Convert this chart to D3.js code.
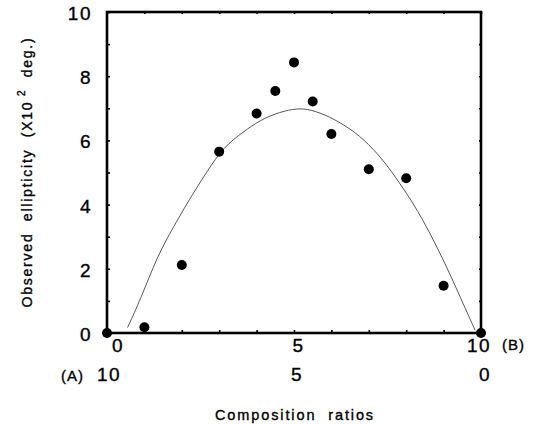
<!DOCTYPE html>
<html>
<head>
<meta charset="utf-8">
<script src="https://cdn.jsdelivr.net/npm/d3@7.9.0/dist/d3.min.js"></script>
<style>
  body { margin: 0; background: #fff; }
  svg { display: block; font-family: "Liberation Sans", Arial, sans-serif; }
  svg text { white-space: pre; stroke: #000; stroke-width: 0.35; fill: #000; }
</style>
</head>
<body>
<svg id="chart" width="533" height="424"></svg>
<script>
// measured points
const ratioB = [0, 1, 2, 3, 4, 4.5, 5, 5.5, 6, 7, 8, 9, 10];
const ellipticity = [0, 0.18, 2.12, 5.65, 6.84, 7.54, 8.43, 7.21, 6.2, 5.1, 4.82, 1.47, 0];

// fitted curve
const fitX = [0.55, 0.89, 1.34, 1.78, 2.14, 2.67, 3.12, 3.65, 4.10, 4.63, 5.08, 5.43, 5.96, 6.41, 6.85, 7.39, 7.83, 8.19, 8.64, 9.08, 9.44, 9.84];
const fitY = [0.17, 1.03, 2.38, 3.31, 4.04, 5.03, 5.80, 6.27, 6.64, 6.89, 7.0, 6.97, 6.74, 6.43, 6.06, 5.39, 4.66, 4.04, 3.11, 2.07, 1.13, 0.09];

const yTickLabels = [0, 2, 4, 6, 8, 10];
const bLabels = [0, 5, 10];      // composition of B
const aLabels = ["10", "5", "0"]; // composition of A

const margin = { top: 12, right: 52, bottom: 91, left: 107 };
const width = 533, height = 424;

const svg = d3.select('#chart');

const x = d3.scaleLinear().domain([0, 10]).range([margin.left, width - margin.right]);
const y = d3.scaleLinear().domain([0, 10]).range([height - margin.bottom, margin.top]);
// tick labels in the figure sit a little off the tick marks
const xLab = d3.scaleLinear().domain([0, 10]).range([118, 479]);
const xLab2 = d3.scaleLinear().domain([0, 10]).range([109, 485]);

// small inward ticks on all four sides
svg.append('g')
    .attr('transform', `translate(${margin.left},0)`)
    .call(d3.axisLeft(y).ticks(10).tickSize(-3).tickFormat(''))
    .call(g => g.select('.domain').remove());
svg.append('g')
    .attr('transform', `translate(0,${y(0)})`)
    .call(d3.axisBottom(x).ticks(10).tickSize(-3).tickFormat(''))
    .call(g => g.select('.domain').remove());
svg.append('g')
    .attr('transform', `translate(${x(10)},0)`)
    .call(d3.axisRight(y).ticks(10).tickSize(-2).tickFormat(''))
    .call(g => g.select('.domain').remove());
svg.append('g')
    .attr('transform', `translate(0,${y(10)})`)
    .call(d3.axisTop(x).ticks(10).tickSize(-2).tickFormat(''))
    .call(g => g.select('.domain').remove());
svg.selectAll('.tick line').attr('stroke', '#000').attr('stroke-width', 1.6);

// frame
svg.append('rect')
    .attr('x', x(0)).attr('y', y(10))
    .attr('width', x(10) - x(0)).attr('height', y(0) - y(10))
    .attr('fill', 'none').attr('stroke', '#000').attr('stroke-width', 2.6);

// y tick labels
svg.append('g')
    .selectAll('text')
    .data(yTickLabels)
    .join('text')
    .attr('x', 92)
    .attr('y', d => y(d) + 3)
    .attr('text-anchor', 'end')
    .attr('dominant-baseline', 'middle')
    .attr('font-size', 19)
    .attr('letter-spacing', 1.5)
    .text(d => d);

// x labels, row B
svg.append('g')
    .selectAll('text')
    .data(bLabels)
    .join('text')
    .attr('x', d => xLab(d))
    .attr('y', 352)
    .attr('text-anchor', 'middle')
    .attr('font-size', 19)
    .attr('letter-spacing', 1.5)
    .text(d => d);
svg.append('text').attr('x', 502).attr('y', 350)
    .attr('font-size', 15).attr('letter-spacing', 1).text('(B)');

// x labels, row A
svg.append('g')
    .selectAll('text')
    .data(aLabels)
    .join('text')
    .attr('x', (d, i) => xLab2(bLabels[i]))
    .attr('y', 381)
    .attr('text-anchor', 'middle')
    .attr('font-size', 19)
    .attr('letter-spacing', 1.5)
    .text(d => d);
svg.append('text').attr('x', 84).attr('y', 381)
    .attr('text-anchor', 'end')
    .attr('font-size', 15).attr('letter-spacing', 1).text('(A)');

// axis titles
const xt = svg.append('text')
    .attr('x', 295).attr('y', 420)
    .attr('text-anchor', 'middle')
    .attr('font-size', 14.5)
    .text('Composition  ratios');
fitWidth(xt, 160);

const yt = svg.append('text')
    .attr('transform', 'translate(32,172) rotate(-90)')
    .attr('text-anchor', 'middle')
    .attr('font-size', 14);
yt.append('tspan').text('Observed  ellipticity  (X10');
yt.append('tspan').attr('dy', -7).attr('font-size', 10).text(' 2');
yt.append('tspan').attr('dy', 7).text('  deg.)');
fitWidth(yt, 271);

function fitWidth(sel, target) {
    const node = sel.node();
    const n = node.textContent.length;
    const len = node.getComputedTextLength();
    sel.attr('letter-spacing', (target - len) / n);
}

// fitted curve
const line = d3.line()
    .x((d, i) => x(fitX[i]))
    .y(d => y(d))
    .curve(d3.curveBasis);
svg.append('path')
    .datum(fitY)
    .attr('d', line)
    .attr('fill', 'none')
    .attr('stroke', '#444')
    .attr('stroke-width', 0.9);

// data points
svg.append('g')
    .selectAll('circle')
    .data(ellipticity)
    .join('circle')
    .attr('cx', (d, i) => x(ratioB[i]))
    .attr('cy', d => y(d))
    .attr('r', 5)
    .attr('fill', '#000');
</script>
</body>
</html>
